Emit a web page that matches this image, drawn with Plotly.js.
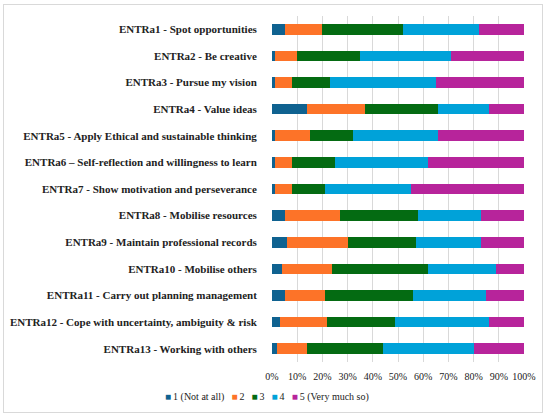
<!DOCTYPE html>
<html>
<head>
<meta charset="utf-8">
<script src="https://cdn.plot.ly/plotly-3.0.1.min.js"></script>
<style>
  html, body { margin: 0; padding: 0; background: #fff; }
  #wrap { position: relative; width: 550px; height: 418px; }
  #chart { width: 550px; height: 418px; }
  #frame { position: absolute; left: 3px; top: 4px; width: 538px; height: 407px;
           border: 1px solid #d9d9d9; pointer-events: none; }
</style>
</head>
<body>
<div id="wrap">
  <div id="chart"></div>
  <div id="frame"></div>
</div>
<script>
const categories = [
  "ENTRa1 - Spot opportunities",
  "ENTRa2 - Be creative",
  "ENTRa3 - Pursue my vision",
  "ENTRa4 - Value ideas",
  "ENTRa5 - Apply Ethical and sustainable thinking",
  "ENTRa6 \u2013 Self-reflection and willingness to learn",
  "ENTRa7 - Show motivation and perseverance",
  "ENTRa8 - Mobilise resources",
  "ENTRa9 - Maintain professional records",
  "ENTRa10 - Mobilise others",
  "ENTRa11 - Carry out planning management",
  "ENTRa12 - Cope with uncertainty, ambiguity & risk",
  "ENTRa13 - Working with others"
];
const seriesNames = ["1 (Not at all)", "2", "3", "4", "5 (Very much so)"];
const s1 = [5, 1, 1, 14, 1, 1, 1, 5, 6, 4, 5, 3, 2];
const s2 = [15, 9, 7, 23, 14, 7, 7, 22, 24, 20, 16, 19, 12];
const s3 = [32, 25, 15, 29, 17, 17, 13, 31, 27, 38, 35, 27, 30];
const s4 = [30, 36, 42, 20, 34, 37, 34, 25, 26, 27, 29, 37, 36];
const s5 = [18, 29, 35, 14, 34, 38, 45, 17, 17, 11, 15, 14, 20];
const tickVals = [0, 0.1, 0.2, 0.3, 0.4, 0.5, 0.6, 0.7, 0.8, 0.9, 1.0];
const tickText = ["0%", "10%", "20%", "30%", "40%", "50%", "60%", "70%", "80%", "90%", "100%"];

const colors = ["#0f6290", "#fd7328", "#046b12", "#00a2d9", "#b7249b"];
const allSeries = [s1, s2, s3, s4, s5];

const traces = allSeries.map((vals, i) => ({
  type: "bar",
  orientation: "h",
  name: seriesNames[i],
  y: categories,
  x: vals.map(v => v / 100),
  marker: { color: colors[i], line: { width: 0 } },
  hoverinfo: "skip",
  showlegend: false
}));

// compact legend (same look as the reference), built from names and colours
const legendText = seriesNames
  .map((n, i) => '<span style="color:' + colors[i] + '">\u25A0</span>\u2009' + n)
  .join('\u2002\u2009');

const layout = {
  width: 550,
  height: 418,
  barmode: "stack",
  bargap: 0.6,
  paper_bgcolor: "#ffffff",
  plot_bgcolor: "#ffffff",
  margin: { l: 272, r: 26, t: 16, b: 56, pad: 0 },
  font: { family: "Liberation Serif, Times New Roman, serif", color: "#222" },
  xaxis: {
    range: [0, 1],
    tickvals: tickVals,
    ticktext: tickText,
    showgrid: true,
    gridcolor: "#d9d9d9",
    gridwidth: 1,
    zeroline: false,
    showline: false,
    ticks: "outside",
    ticklen: 5,
    tickcolor: "rgba(0,0,0,0)",
    tickfont: { size: 10, family: "Liberation Serif, serif", color: "#222" },
    fixedrange: true
  },
  yaxis: {
    autorange: "reversed",
    showgrid: false,
    zeroline: false,
    showline: false,
    ticks: "outside",
    ticklen: 12,
    tickcolor: "rgba(0,0,0,0)",
    tickfont: { size: 11, family: "Liberation Serif, serif", color: "#222", weight: "bold" },
    fixedrange: true
  },
  showlegend: false,
  annotations: [{
    xref: "paper", yref: "paper",
    x: -0.02, y: -0.102,
    xanchor: "center", yanchor: "middle",
    showarrow: false,
    text: legendText,
    font: { size: 10, family: "Liberation Serif, serif", color: "#222" }
  }]
};

Plotly.newPlot("chart", traces, layout, { displayModeBar: false, staticPlot: true });
</script>
</body>
</html>
